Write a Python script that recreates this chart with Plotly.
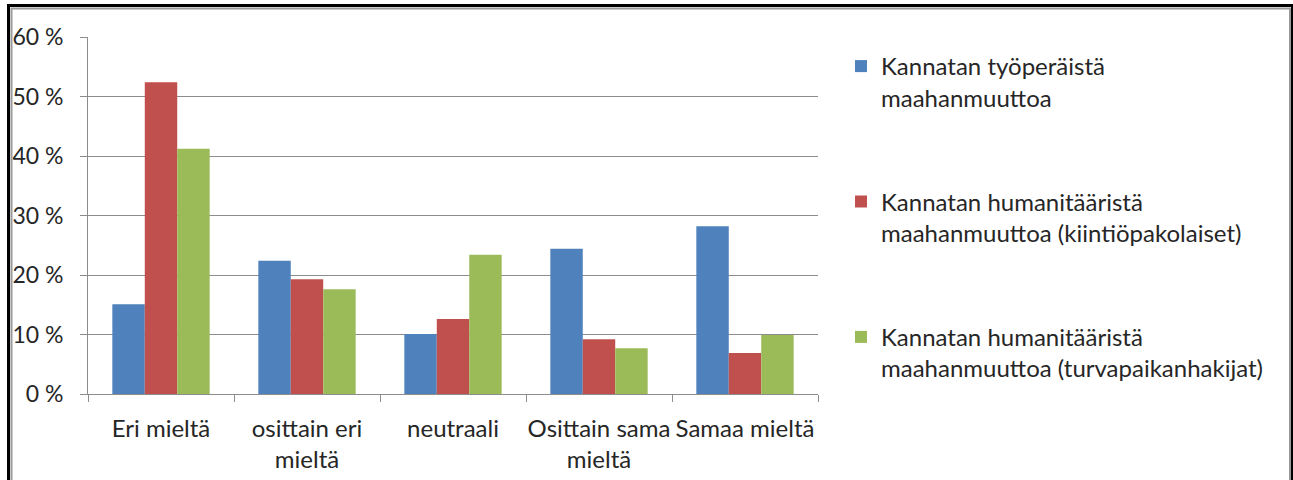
import plotly.graph_objects as go

categories = ["Eri mieltä", "osittain eri<br>mieltä", "neutraali", "Osittain sama<br>mieltä", "Samaa mieltä"]
series_names = [
    "Kannatan työperäistä<br>maahanmuuttoa",
    "Kannatan humanitääristä<br>maahanmuuttoa (kiintiöpakolaiset)",
    "Kannatan humanitääristä<br>maahanmuuttoa (turvapaikanhakijat)",
]
tyoperainen = [15.1, 22.4, 10.1, 24.4, 28.2]
kiintiopakolaiset = [52.4, 19.3, 12.6, 9.2, 6.9]
turvapaikanhakijat = [41.2, 17.6, 23.4, 7.7, 9.9]
colors = ["#4F81BD", "#C0504D", "#9BBB59"]

W, H = 1293, 480
# plot area in page pixels
L, R, T, B = 88, 818, 37, 394

fig = go.Figure()
for i, (name, vals) in enumerate(zip(series_names, [tyoperainen, kiintiopakolaiset, turvapaikanhakijat])):
    fig.add_trace(go.Bar(
        x=categories, y=vals, name=name, marker_color=colors[i],
        marker_line_width=0, legendgroup=f"g{i}",
    ))

def px_x(p):
    return (p - L) / (R - L)

def px_y(p):
    return (B - p) / (B - T)

font = "Lato, 'Open Sans', sans-serif"
fig.update_layout(
    width=W, height=H,
    margin=dict(l=L, r=W - R, t=T, b=H - B, pad=0, autoexpand=False),
    paper_bgcolor="white", plot_bgcolor="white",
    barmode="group", bargap=1/3, bargroupgap=0,
    font=dict(family=font, size=24, color="#262626"),
    legend=dict(
        x=px_x(841), y=px_y(44), xanchor="left", yanchor="top",
        tracegroupgap=70, valign="top", itemwidth=30,
        font=dict(size=24, color="#262626"),
        bgcolor="rgba(0,0,0,0)",
    ),
    showlegend=True,
)
fig.update_yaxes(
    range=[0, 60], dtick=10, ticksuffix=" %",
    showgrid=True, gridcolor="#8c8c8c", gridwidth=1,
    showline=True, linecolor="#8c8c8c", linewidth=1,
    ticks="outside", ticklen=7, tickcolor="#8c8c8c",
    ticklabelstandoff=12, zeroline=False, automargin=False,
    tickfont=dict(size=23),
)
fig.update_xaxes(
    showline=True, linecolor="#8c8c8c", linewidth=1,
    ticks="outside", ticklen=7, tickcolor="#8c8c8c", tickson="boundaries",
    showgrid=False, tickangle=0, ticklabelstandoff=13, automargin=False,
    tickfont=dict(size=24),
)
# chart frame (outer black, inner gray)
fig.add_shape(type="rect", xref="paper", yref="paper",
              x0=px_x(8.5), x1=px_x(1292.5), y0=px_y(5.5), y1=px_y(520),
              line=dict(color="black", width=3), fillcolor="rgba(0,0,0,0)", layer="above")
fig.add_shape(type="rect", xref="paper", yref="paper",
              x0=px_x(11.5), x1=px_x(1290), y0=px_y(8.5), y1=px_y(520),
              line=dict(color="#9a9a9a", width=2), fillcolor="rgba(0,0,0,0)", layer="above")

fig.write_html(
    "out.html",
    config={"displayModeBar": False},
    post_script="document.body.style.margin='0';document.body.style.overflow='hidden';",
)
